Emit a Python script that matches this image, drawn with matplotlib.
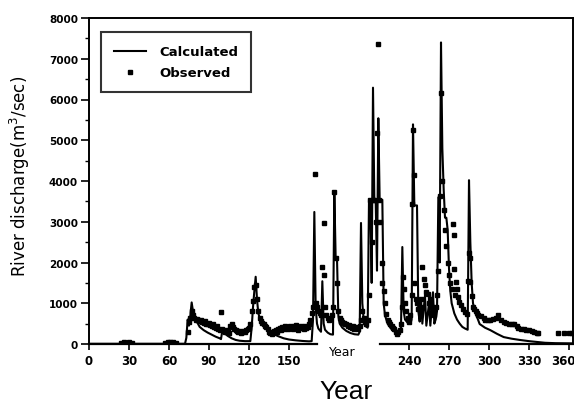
import matplotlib
matplotlib.use("Agg")
import matplotlib.pyplot as plt
import matplotlib.transforms as mtransforms

# ---- data ----
calc_days = [0, 72, 73, 74, 75, 76, 77, 78, 79, 81, 83, 86, 89, 92, 95, 98, 99, 100, 101, 104,
             107, 110, 113, 117, 121, 122, 123, 124, 125, 126, 127, 129, 131, 134, 138, 142, 146,
             150, 155, 160, 165, 167, 168, 169, 170, 171, 172, 174, 175, 176, 177, 179, 181, 183,
             184, 185, 186, 187, 188, 190, 193, 196, 199, 202, 203, 204, 205, 206, 207, 209, 210,
             211, 212, 213, 214, 215, 216, 217, 218, 219, 220, 221, 222, 224, 226, 228, 230, 232,
             234, 235, 236, 237, 239, 241, 242, 243, 244, 246, 247, 248, 249, 250, 252, 253, 255,
             256, 258, 259, 260, 261, 262, 263, 264, 265, 266, 267, 268, 269, 270, 271, 272, 274,
             276, 278, 280, 282, 284, 285, 286, 287, 288, 290, 293, 297, 301, 306, 311, 317, 323,
             330, 336, 342, 350, 363]
calc_vals = [5, 5, 150, 600, 450, 700, 1020, 800, 650, 540, 420, 340, 280, 230, 180, 140, 120, 330, 280, 200,
             140, 100, 80, 70, 70, 400, 900, 1300, 1650, 1100, 750, 550, 440, 340, 250, 190, 140,
             110, 90, 75, 65, 70, 600, 3240, 900, 500, 380, 300, 1540, 500, 350, 280, 240, 230,
             3730, 2100, 2100, 700, 500, 400, 320, 270, 240, 230, 300, 2970, 1000, 600, 450, 400, 3540,
             3540, 1500, 6290, 3540, 3540, 1800, 5540, 3540, 3540, 3540, 1000, 700, 500, 400, 330, 290, 320,
             400, 2380, 800, 600, 520, 500, 600, 5390, 3400, 3400, 800, 550, 1100, 500, 1200, 450, 1000,
             450, 1270, 500, 600, 800, 3600, 2000, 7400, 4800, 3800, 3100, 3100, 2800, 1850, 1300, 1000, 750,
             600, 500, 420, 380, 350, 4020, 2500, 1500, 1000, 750, 490, 400, 340, 250, 170, 130, 100,
             70, 50, 30, 20, 15]

obs_days = [24, 26, 28, 30, 32, 57, 59, 61, 63, 65,
            74, 75, 76, 77, 78, 79, 80, 81, 82, 83, 84, 85, 86, 87, 88, 89, 90, 91, 92, 93, 94, 95, 96,
            97, 98, 99, 100, 101, 102, 103, 104, 105, 106, 107, 108, 109, 110, 111, 112, 113, 114, 115,
            116, 117, 118, 119, 120, 121, 122, 123, 124, 125, 126, 127, 128, 129, 130, 131, 132, 133,
            134, 135, 136, 137, 138, 139, 140, 141, 142, 143, 144, 145, 146, 147, 148, 149, 150, 151,
            152, 153, 154, 155, 156, 157, 158, 159, 160, 161, 162, 163, 164, 165, 166, 167, 168, 169.5,
            170, 171, 172, 173, 174, 175, 176, 176.5, 177, 178, 179, 180, 181, 182, 183, 184, 185, 186,
            187, 188, 189, 190, 191, 192, 193, 194, 195, 196, 197, 198, 199, 200, 201, 202, 203, 204,
            205, 206, 207, 208, 209, 210, 211, 212, 213, 214, 215, 216, 216.8, 217.5, 218.5, 219.5,
            220, 221, 222, 223, 224, 225, 226, 227, 228, 229, 230, 231, 232, 233, 234, 235, 235.5, 236,
            237, 238, 239, 240, 241, 242, 242.5, 243, 243.5, 244, 245, 246, 247, 248, 249, 250, 251,
            252, 253, 254, 255, 256, 257, 258, 259, 260, 261, 262, 263, 264, 265, 266, 267, 268, 269,
            270, 271, 272, 273, 273.5, 274, 274.5, 275, 276, 277, 277.5, 279, 280.5, 282, 283.5, 284.5,
            285, 285.5, 286, 287, 288, 289, 290, 291, 292, 294, 296, 297, 299, 301, 303, 305, 307, 309,
            311, 313, 315, 317, 319, 321, 322, 324, 326, 328, 330, 332, 334, 336, 337, 352, 356, 360, 362]
obs_vals = [30, 40, 35, 40, 30, 30, 40, 50, 40, 30,
            300, 550, 650, 800, 700, 650, 600, 620, 580, 560, 600, 540, 520, 560, 500, 480, 520, 470, 450, 480, 420, 400, 430,
            380, 350, 780, 360, 330, 300, 350, 320, 280, 450, 500, 420, 380, 350, 330, 300, 320, 280, 300,
            320, 290, 340, 360, 400, 500, 800, 1050, 1400, 1450, 1100, 800, 650, 560, 520, 480, 450, 420,
            380, 300, 280, 250, 300, 320, 350, 300, 380, 400, 350, 420, 380, 450, 400, 380, 420, 450,
            400, 380, 430, 460, 400, 350, 420, 450, 400, 380, 440, 400, 420, 500, 600, 750, 900, 4170,
            1000, 900, 800, 750, 700, 1900, 2970, 1700, 900, 700, 650, 600, 620, 700, 900, 3730, 2100, 1500,
            800, 650, 600, 550, 520, 500, 480, 450, 470, 420, 400, 430, 380, 400, 420, 380, 450, 600,
            800, 650, 550, 500, 600, 1200, 3540, 2500, 3540, 3540, 3000, 5170, 7370, 3540, 3000, 2000,
            1500, 1300, 1000, 730, 600, 550, 500, 450, 400, 380, 300, 250, 300, 350, 500, 900, 1650, 1350,
            1000, 800, 650, 550, 700, 1200, 3440, 5240, 4150, 1500, 1100, 1000, 850, 900, 1100, 1880, 1600,
            1460, 1270, 1220, 1000, 1100, 900, 800, 700, 900, 1200, 1800, 3630, 6170, 4000, 3300, 2800, 2400, 2000,
            1700, 1500, 1350, 2950, 1850, 2680, 1200, 1510, 1340, 1150, 1020, 950, 850, 780, 730, 1540,
            2240, 2120, 1510, 1170, 900, 850, 800, 760, 720, 680, 640, 600, 590, 600, 620, 650, 700, 600,
            540, 520, 500, 480, 490, 450, 400, 370, 380, 350, 340, 320, 300, 280, 270, 270, 270, 270, 270]

x_ticks = [0, 30, 60, 90, 120, 150, 180, 210, 240, 270, 300, 330, 360]
x_ticklabels = ["0", "30", "60", "90", "120", "150", "", "", "240", "270", "300", "330", "360"]
y_ticks = [0, 1000, 2000, 3000, 4000, 5000, 6000, 7000, 8000]

# ---- figure ----
fig = plt.figure(figsize=(5.74, 4.06), dpi=100)
ax = fig.add_axes([89 / 574, 61 / 406, 484 / 574, 326 / 406])

ax.plot(calc_days, calc_vals, color="black", lw=1.5, label="Calculated")
ax.plot(obs_days, obs_vals, linestyle="none", marker="s", ms=2.8, color="black", label="Observed")

ax.set_xlim(0, 363)
ax.set_ylim(0, 8000)

tickfont = dict(family="DejaVu Sans", weight="bold")
ax.set_xticks(x_ticks)
ax.set_xticklabels(x_ticklabels, fontsize=8.5, **tickfont)
ax.set_yticks(y_ticks)
ax.set_yticklabels([str(v) for v in y_ticks], fontsize=7.5, **tickfont)
ax.set_yticks(range(500, 8000, 1000), minor=True)
ax.tick_params(axis="y", which="major", direction="out", length=6, width=1.2, pad=2)
ax.tick_params(axis="y", which="minor", direction="out", length=3, width=1.0)
ax.tick_params(axis="x", which="major", direction="out", length=4, width=1.2, pad=3)
for v, t in zip(x_ticks, ax.xaxis.get_major_ticks()):
    if v in (180, 210):
        t.tick1line.set_visible(False)
# keep the last x label inside the picture
last = ax.get_xticklabels()[-1]
last.set_transform(last.get_transform() + mtransforms.ScaledTranslation(-6 / 100, 0, fig.dpi_scale_trans))

for s in ["top", "right", "left"]:
    ax.spines[s].set_linewidth(1.4)
ax.spines["bottom"].set_visible(False)
ax.plot([0, 0.471], [0, 0], transform=ax.transAxes, color="black", lw=1.6, clip_on=False)
ax.plot([0.601, 1.0], [0, 0], transform=ax.transAxes, color="black", lw=1.6, clip_on=False)

ax.text(0.523, -0.022, "Year", transform=ax.transAxes, ha="center", va="center",
        fontsize=9, family="DejaVu Sans")
fig.text(346 / 574, 1 - 392 / 406, "Year", ha="center", va="center",
         fontsize=19, family="Liberation Sans")
fig.text(20 / 574, 1 - 176 / 406, "River discharge(m$^3$/sec)", rotation=90,
         ha="center", va="center", fontsize=12, family="DejaVu Sans")

leg = ax.legend(loc="upper left", bbox_to_anchor=(0.025, 0.957), borderaxespad=0,
                frameon=True, fancybox=False, edgecolor="black",
                prop=dict(family="DejaVu Sans", weight="bold", size=9.5),
                handlelength=2.4, handletextpad=1.0, labelspacing=0.6, borderpad=1.0)
leg.get_frame().set_linewidth(1.5)

fig.savefig("out.png", dpi=100)
